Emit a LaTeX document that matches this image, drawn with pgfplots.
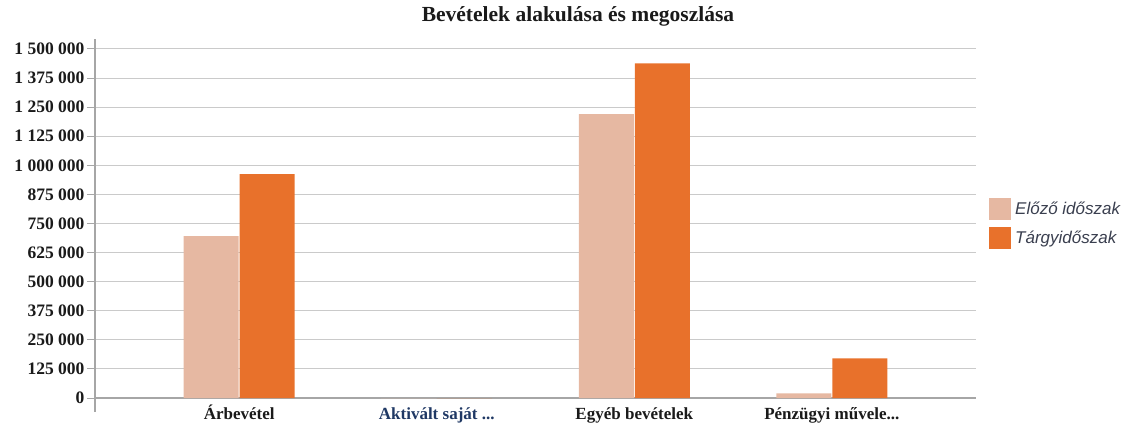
\documentclass[border=0pt]{standalone}
\usepackage{pgfplots}
\pgfplotsset{compat=1.18}
\usepackage{fontspec}
\setmainfont{Liberation Serif}
\newfontfamily\legfont{Liberation Sans}
\definecolor{prevc}{HTML}{E6B8A2}
\definecolor{currc}{HTML}{E8712B}
\definecolor{gridc}{HTML}{CACACA}
\definecolor{axisc}{HTML}{A6A6A6}
\definecolor{txtc}{HTML}{1A1A1A}
\definecolor{navy}{HTML}{1F3864}
\definecolor{legc}{HTML}{3A3F4F}
\newcommand{\threedots}{.{}.{}.}
\begin{document}
\begin{tikzpicture}
\useasboundingbox (-95bp,-27bp) rectangle (1033bp,398bp);
\begin{axis}[
  at={(0,0)}, anchor=south west,
  scale only axis,
  width=881bp, height=349bp,
  xmin=-0.73, xmax=3.73,
  ymin=0, ymax=1500000,
  ytick={0,125000,250000,375000,500000,625000,750000,875000,1000000,1125000,1250000,1375000,1500000},
  scaled y ticks=false,
  xtick={0,1,2,3},
  xticklabels={Árbevétel, {\textcolor{navy}{Aktivált saját \threedots}}, Egyéb bevételek, {Pénzügyi művele\threedots}},
  ybar=1bp, bar width=55bp,
  axis x line*=bottom, axis y line*=left,
  x axis line style={-, draw=axisc, line width=1.2bp},
  y axis line style={-, draw=axisc, line width=2.5bp, shorten <=-14bp, shorten >=-10bp},
  ymajorgrids, grid style={draw=gridc, line width=1bp},
  tick align=outside, major tick length=8bp,
  ytick style={draw=axisc, line width=1bp},
  xtick style={draw=none},
  yticklabel style={/pgf/number format/.cd, fixed, precision=0, 1000 sep={\ }, assume math mode=true, /tikz/.cd,
    font=\fontsize{17.5bp}{20bp}\selectfont\bfseries, text=txtc, anchor=east, xshift=1bp},
  xticklabel style={font=\fontsize{17bp}{20bp}\selectfont\bfseries, text=txtc, anchor=base, yshift=-13bp},
  title={Bevételek alakulása és megoszlása},
  title style={at={(0.5482,1)}, anchor=base, yshift=22bp, font=\fontsize{21.5bp}{24bp}\selectfont\bfseries, text=txtc},
  legend image code/.code={\fill[#1, draw=none] (0bp,-11bp) rectangle (22bp,11bp);},
  legend style={at={(1.0148,0.573)}, anchor=north west, draw=none, fill=none,
    font=\legfont\itshape\fontsize{17bp}{20bp}\selectfont, text=legc,
    row sep=7bp, inner sep=0pt, nodes={inner xsep=4bp, inner ysep=0pt}},
  legend cell align=left,
]
\addplot[fill=prevc, draw=none] coordinates {(0,696000) (1,0) (2,1220000) (3,20000)};
\addplot[fill=currc, draw=none] coordinates {(0,962000) (1,0) (2,1438000) (3,170000)};
\legend{Előző időszak, Tárgyidőszak}
\end{axis}
\end{tikzpicture}
\end{document}
